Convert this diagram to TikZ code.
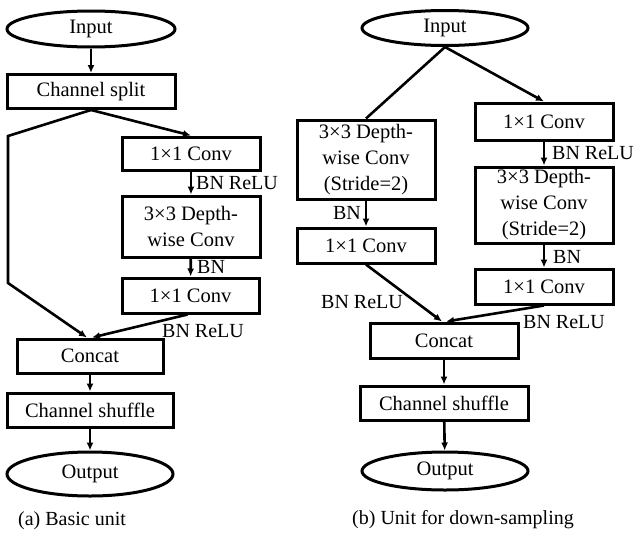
\documentclass[tikz,border=0pt]{standalone}
\usepackage{fontspec}
\setmainfont{Liberation Serif}
\usetikzlibrary{arrows.meta,shapes.geometric}
\begin{document}
\begin{tikzpicture}[x=1pt,y=-1pt,
  every node/.style={font=\fontsize{20.5}{26}\selectfont},
  box/.style={draw,line width=3pt,rectangle,inner sep=0pt,align=center},
  oval/.style={draw,line width=3pt,ellipse,inner sep=0pt},
  conn/.style={line width=2.6pt},
  arr/.style={line width=2.6pt,-{Latex[length=8pt,width=7pt]}},
  lab/.style={inner sep=0pt,font=\fontsize{20}{24}\selectfont},
  captext/.style={inner sep=0pt,font=\fontsize{20}{24}\selectfont}]
\useasboundingbox (0,0) rectangle (637,536);
% ---------- (a) ----------
\node[oval,minimum width=168pt,minimum height=36pt] (inA) at (91,29) {Input};
\node[box,minimum width=168pt,minimum height=34pt] (splitA) at (91,91.5) {Channel split};
\node[box,minimum width=138pt,minimum height=33pt] (c1A) at (191,153.5) {1×1 Conv};
\node[box,minimum width=138pt,minimum height=61pt] (dwA) at (191,226.5) {3×3 Depth-\\wise Conv};
\node[box,minimum width=137pt,minimum height=35pt] (c2A) at (190.5,295.5) {1×1 Conv};
\node[box,minimum width=146pt,minimum height=34pt] (catA) at (90,356) {Concat};
\node[box,minimum width=166pt,minimum height=34pt] (shufA) at (90,410) {Channel shuffle};
\node[oval,minimum width=166pt,minimum height=44pt] (outA) at (90,474) {Output};
\coordinate (lA1) at (8,136);
\coordinate (lA2) at (8,283);
\draw[arr] (inA) -- (splitA);
\draw[arr] (splitA.south) -- (c1A.north);
\draw[arr,line join=miter] (splitA.south) -- (lA1) -- (lA2) -- ([xshift=-3pt]catA.north);
\draw[arr] (c1A) -- (dwA);
\draw[arr] (dwA) -- (c2A);
\draw[arr] ([xshift=-3pt]c2A.south) -- ([xshift=2pt]catA.north);
\draw[arr] (catA) -- (shufA);
\draw[arr] (shufA) -- (outA);
\node[lab,anchor=west] (lA3) at (196,183) {BN ReLU};
\node[lab,anchor=west] (lA4) at (197,267) {BN};
\node[lab] (lA5) at (203,331) {BN ReLU};
\node[captext,anchor=west] (capA) at (18,521) {(a) Basic unit};
% ---------- (b) ----------
\node[oval,minimum width=166pt,minimum height=35pt] (inB) at (445,28) {Input};
\node[box,minimum width=138pt,minimum height=79pt] (dwB1) at (366,159.5) {3×3 Depth-\\wise Conv\\(Stride=2)};
\node[box,minimum width=138pt,minimum height=35pt] (c1B1) at (366,245.5) {1×1 Conv};
\node[box,minimum width=138pt,minimum height=37pt] (c1B2) at (544,121.5) {1×1 Conv};
\node[box,minimum width=138pt,minimum height=76pt] (dwB2) at (544,205) {3×3 Depth-\\wise Conv\\(Stride=2)};
\node[box,minimum width=138pt,minimum height=35pt] (c1B3) at (544,286.5) {1×1 Conv};
\node[box,minimum width=148pt,minimum height=35pt] (catB) at (444,340.5) {Concat};
\node[box,minimum width=168pt,minimum height=34pt] (shufB) at (444,403) {Channel shuffle};
\node[oval,minimum width=166pt,minimum height=38pt] (outB) at (445,471) {Output};
\draw[conn] (inB.south) -- (dwB1.north);
\draw[arr] (inB.south) -- (c1B2.north);
\draw[arr] (dwB1) -- (c1B1);
\draw[arr] (c1B2) -- (dwB2);
\draw[arr] (dwB2) -- (c1B3);
\draw[arr] (c1B1.south) -- ([xshift=-2pt]catB.north);
\draw[arr] (c1B3.south) -- ([xshift=2pt]catB.north);
\draw[arr] (catB) -- (shufB);
\draw[arr] (shufB) -- (outB);
\node[lab,anchor=east] (lB1) at (361,213) {BN};
\node[lab,anchor=west] (lB2) at (552,153) {BN ReLU};
\node[lab,anchor=west] (lB3) at (553,257) {BN};
\node[lab] (lB4) at (362,302) {BN ReLU};
\node[lab] (lB5) at (564,322) {BN ReLU};
\node[captext] (capB) at (463,520) {(b) Unit for down-sampling};
\end{tikzpicture}
\end{document}
